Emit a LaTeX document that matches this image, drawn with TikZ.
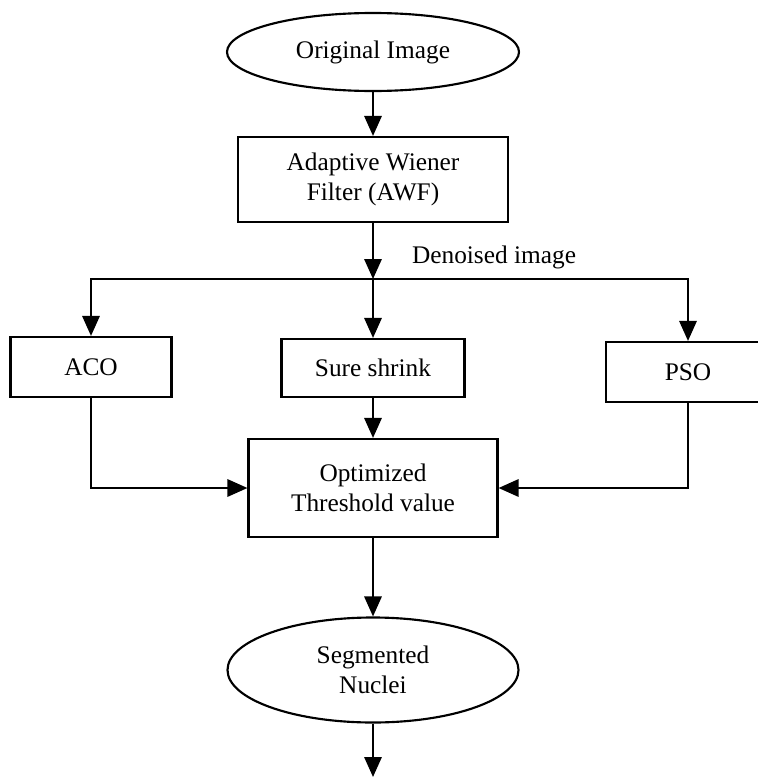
\documentclass[tikz,border=0pt]{standalone}
\usepackage{fontspec}
\setmainfont{Liberation Serif}
\usetikzlibrary{shapes.geometric,arrows.meta}

\begin{document}
\begin{tikzpicture}[x=0.75pt, y=-0.75pt, line width=1.6pt,
      >={Triangle[length=15pt,width=13pt]},
      font=\fontsize{19}{22.5}\selectfont,
      blk/.style={draw, rectangle, align=center, inner sep=0pt},
      oval/.style={draw, ellipse, align=center, inner sep=0pt}]
    \useasboundingbox (0,0) rectangle (757,778);
    % main column
    \node (orig) [oval, minimum width=219pt, minimum height=58.5pt] at (373,52) {Original Image};
    \node (awf) [blk, minimum width=202.5pt, minimum height=63.75pt] at (373,179.5) {Adaptive Wiener\\Filter (AWF)};
    \coordinate (split) at (373,279);
    \node (lbl) [anchor=west, inner sep=0pt] at (411,257) {Denoised image};
    % the three branches
    \node (aco) [blk, minimum width=120.75pt, minimum height=45pt] at (91,367) {ACO};
    \node (sure) [blk, minimum width=137.25pt, minimum height=43.5pt] at (373,368) {Sure shrink};
    \node (pso) [blk, minimum width=123pt, minimum height=45pt] at (688,372) {PSO};
    \node (opt) [blk, minimum width=186.75pt, minimum height=73.5pt] at (373,488) {Optimized\\Threshold value};
    \node (seg) [oval, minimum width=218.25pt, minimum height=78.75pt] at (373,670) {Segmented\\Nuclei};
    \coordinate (out) at (373,777);

    \draw[->] (orig) -- (awf);
    \draw[->] (awf) -- (split);
    \draw[->] (split) -- (sure);
    \draw[->] (split) -| (aco);
    \draw[->] (split) -| (pso);
    \draw[->] (sure) -- (opt);
    \draw[->] (aco) |- (opt);
    \draw[->] (pso) |- (opt);
    \draw[->] (opt) -- (seg);
    \draw[->] (seg) -- (out);
  \end{tikzpicture}
\end{document}
